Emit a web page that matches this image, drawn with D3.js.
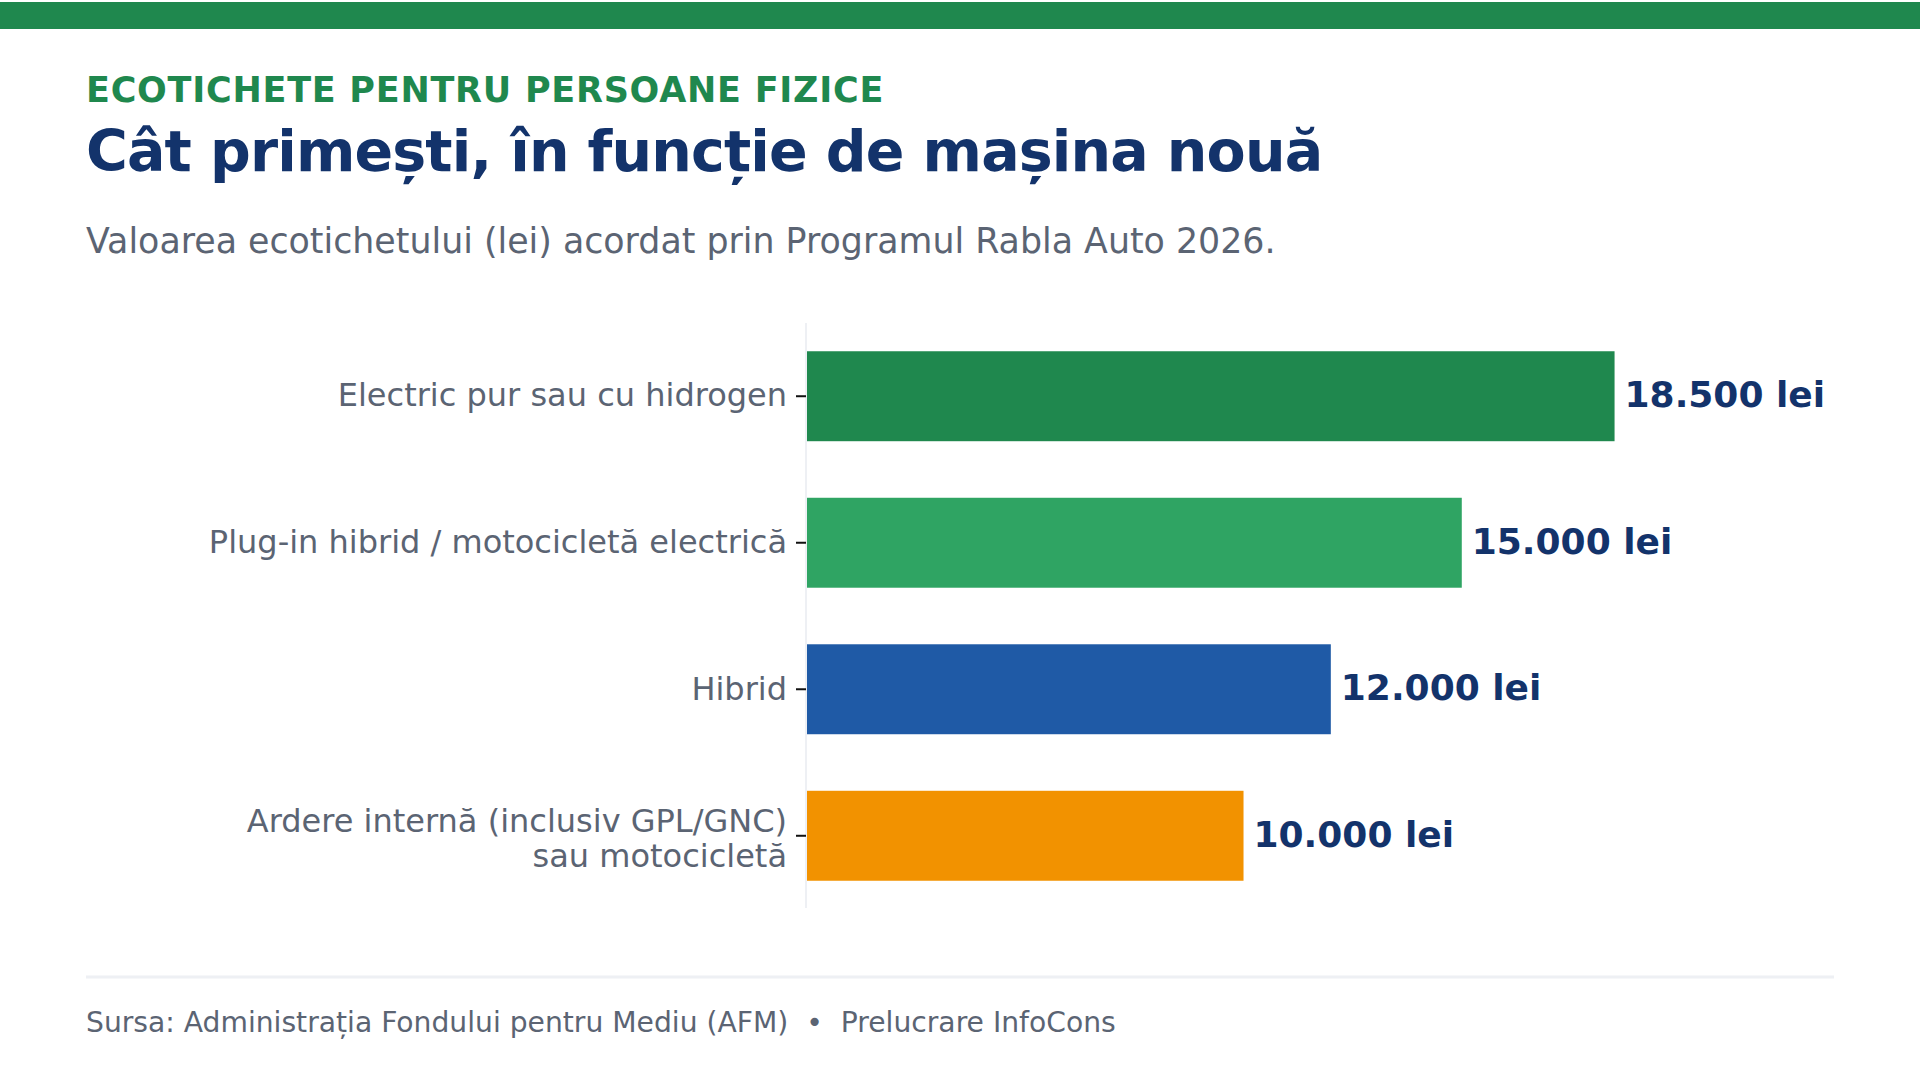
<!DOCTYPE html>
<html>
<head>
<meta charset="utf-8">
<script src="https://cdn.jsdelivr.net/npm/d3@7"></script>
<style>
  html, body { margin: 0; padding: 0; background: #ffffff; }
  svg { display: block; font-family: "DejaVu Sans", sans-serif; }
</style>
</head>
<body>
<script>
// chart data
const categories = [
    "Electric pur sau cu hidrogen",
    "Plug-in hibrid / motocicletă electrică",
    "Hibrid",
    "Ardere internă (inclusiv GPL/GNC)\nsau motocicletă"
];
const values = [18500, 15000, 12000, 10000];
const barColors = ["#1f884e", "#2fa463", "#1f5aa6", "#f29200"];
const valueLabels = ["18.500 lei", "15.000 lei", "12.000 lei", "10.000 lei"];

const kicker = "ECOTICHETE PENTRU PERSOANE FIZICE";
const title = "Cât primești, în funcție de mașina nouă";
const subtitle = "Valoarea ecotichetului (lei) acordat prin Programul Rabla Auto 2026.";
const source = "Sursa: Administrația Fondului pentru Mediu (AFM)  •  Prelucrare InfoCons";

const width = 1920;
const height = 1080;

const svg = d3.select("body")
    .append("svg")
    .attr("width", width)
    .attr("height", height)
    .attr("viewBox", `0 0 ${width} ${height}`);

svg.append("rect")
    .attr("width", width)
    .attr("height", height)
    .attr("fill", "#ffffff");

// green band on top
svg.append("rect")
    .attr("x", 0)
    .attr("y", 2)
    .attr("width", width)
    .attr("height", 27)
    .attr("fill", "#1f884e");

// header texts
svg.append("text")
    .attr("x", 86)
    .attr("y", 102)
    .attr("fill", "#1f884e")
    .style("font-size", "35px")
    .style("font-weight", "bold")
    .style("letter-spacing", "0.75px")
    .text(kicker);

svg.append("text")
    .attr("x", 86)
    .attr("y", 171)
    .attr("fill", "#13336b")
    .style("font-size", "57px")
    .style("font-weight", "bold")
    .style("letter-spacing", "-0.85px")
    .text(title);

svg.append("text")
    .attr("x", 86)
    .attr("y", 253)
    .attr("fill", "#5b6473")
    .style("font-size", "34.8px")
    .text(subtitle);

// scales
const left = 806;
const x = d3.scaleLinear()
    .domain([0, 23550])
    .range([left, 1834]);

const y = d3.scaleBand()
    .domain(categories)
    .range([324, 908])
    .paddingInner(0.386)
    .paddingOuter(0.186);

// light vertical baseline
svg.append("line")
    .attr("x1", left)
    .attr("x2", left)
    .attr("y1", 323)
    .attr("y2", 908)
    .attr("stroke", "#eef0f4")
    .attr("stroke-width", 2);

// bars
svg.selectAll(".bar")
    .data(values)
    .enter().append("rect")
    .attr("class", "bar")
    .attr("x", x(0) + 1)
    .attr("y", (d, i) => y(categories[i]))
    .attr("width", d => x(d) - x(0))
    .attr("height", y.bandwidth())
    .attr("fill", (d, i) => barColors[i]);

// value labels
svg.selectAll(".value-label")
    .data(values)
    .enter().append("text")
    .attr("class", "value-label")
    .attr("x", d => x(d) + 11)
    .attr("y", (d, i) => y(categories[i]) + y.bandwidth() / 2)
    .attr("dy", "0.3em")
    .attr("fill", "#13336b")
    .style("font-size", "36px")
    .style("font-weight", "bold")
    .text((d, i) => valueLabels[i]);

// category axis
const yAxis = svg.append("g")
    .attr("transform", `translate(${left},0)`)
    .call(d3.axisLeft(y).tickSize(10).tickPadding(11).tickFormat(""))
    .attr("font-family", null)
    .attr("font-size", null);

yAxis.select(".domain").remove();
yAxis.selectAll(".tick line")
    .attr("stroke", "#111111")
    .attr("stroke-width", 2);

yAxis.selectAll(".tick").each(function(d) {
    const lines = d.split("\n");
    const t = d3.select(this).append("text")
        .attr("x", -19)
        .attr("fill", "#5b6473")
        .attr("text-anchor", "end")
        .style("font-family", "'DejaVu Sans', sans-serif")
        .style("font-size", "32px");
    lines.forEach((line, k) => {
        t.append("tspan")
            .attr("x", -19)
            .attr("dy", k === 0 ? (0.32 - (lines.length - 1) * 0.45) + "em" : "1.11em")
            .text(line);
    });
});

// footer
svg.append("line")
    .attr("x1", 86)
    .attr("x2", 1834)
    .attr("y1", 977)
    .attr("y2", 977)
    .attr("stroke", "#eef0f4")
    .attr("stroke-width", 3);

svg.append("text")
    .attr("x", 86)
    .attr("y", 1032)
    .attr("fill", "#5b6473")
    .style("font-size", "28.2px")
    .style("white-space", "pre")
    .text(source);
</script>
</body>
</html>
